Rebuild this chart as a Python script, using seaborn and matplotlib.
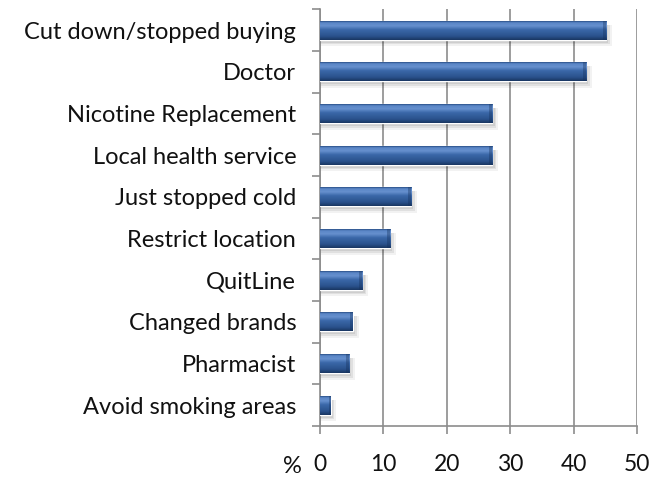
import numpy as np
import pandas as pd
import matplotlib
matplotlib.use("Agg")
import matplotlib.pyplot as plt
import seaborn as sns
from matplotlib.colors import LinearSegmentedColormap

categories = ["Cut down/stopped buying", "Doctor", "Nicotine Replacement",
              "Local health service", "Just stopped cold", "Restrict location",
              "QuitLine", "Changed brands", "Pharmacist", "Avoid smoking areas"]
values = [45.1, 42.0, 27.2, 27.2, 14.4, 11.1, 6.7, 5.2, 4.6, 1.7]
x_ticks = [0, 10, 20, 30, 40, 50]

sns.set_theme(style="white")
plt.rcParams['font.family'] = ['Lato', 'DejaVu Sans']

df = pd.DataFrame({"category": categories, "value": values})

fig = plt.figure(figsize=(6.54, 4.79), dpi=100)
ax = fig.add_axes([0.489, 0.1106, 0.485, 0.870])

sns.barplot(data=df, y="category", x="value", orient="h", color="#3A66A6",
            width=0.45, ax=ax, zorder=3)

# gradient overlay for a bevelled look
cmap = LinearSegmentedColormap.from_list(
    "bev", [(0.0, "#2A5088"), (0.08, "#5A86C6"), (0.25, "#6690CE"),
            (0.45, "#3B68A9"), (0.8, "#2A528C"), (1.0, "#1A3762")])
grad = np.linspace(0, 1, 64).reshape(-1, 1)
for p in ax.patches:
    x0, y0 = p.get_x(), p.get_y()
    w, h = p.get_width(), p.get_height()
    # soft shadow
    for k, a in [(0.9, 0.05), (0.6, 0.07), (0.35, 0.08)]:
        ax.add_patch(plt.Rectangle((x0, y0 + h * 0.2), w + k, h * (0.85 + k * 0.35),
                                   color="#000000", alpha=a, zorder=2, lw=0))
    im = ax.imshow(grad, cmap=cmap, aspect="auto",
                   extent=(x0, x0 + w, y0 + h, y0), zorder=4)
    im.set_clip_path(p)
    # darker end cap
    cap = min(0.5, w * 0.15)
    ax.add_patch(plt.Rectangle((x0 + w - cap, y0), cap, h, color="#14305A",
                               alpha=0.35, zorder=5, lw=0))

ax.set_xlim(0, 50)
ax.set_ylim(len(categories) - 0.5, -0.5)
ax.set_xticks(x_ticks)
ax.set_xticklabels([str(t) for t in x_ticks])
ax.set_xlabel("")
ax.set_ylabel("")

grid_c = "#8C8C8C"
ax.grid(axis="x", color=grid_c, lw=1.2, zorder=0)
ax.grid(axis="y", visible=False)
for s in ["top", "right"]:
    ax.spines[s].set_visible(False)
for s in ["left", "bottom"]:
    ax.spines[s].set_color(grid_c)
    ax.spines[s].set_linewidth(1.2)

# y ticks at category boundaries
ax.set_yticks(np.arange(len(categories)))
ax.set_yticklabels(categories, fontsize=17, color="#111111")
ax.tick_params(axis="y", which="major", left=False, length=0, pad=17)
ax.set_yticks(np.arange(len(categories) + 1) - 0.5, minor=True)
ax.tick_params(axis="y", which="minor", left=True, length=6, color=grid_c,
               width=1.2, direction="out")
ax.tick_params(axis="x", bottom=True, length=6, color=grid_c, width=1.2,
               direction="out", labelsize=16.5, pad=14, labelcolor="#111111")
ax.set_axisbelow(True)

ax.text(-0.055, -0.098, "%", transform=ax.transAxes, ha="right", va="center",
        fontsize=17, color="#111111")

fig.savefig("out.png", dpi=100, facecolor="white")
